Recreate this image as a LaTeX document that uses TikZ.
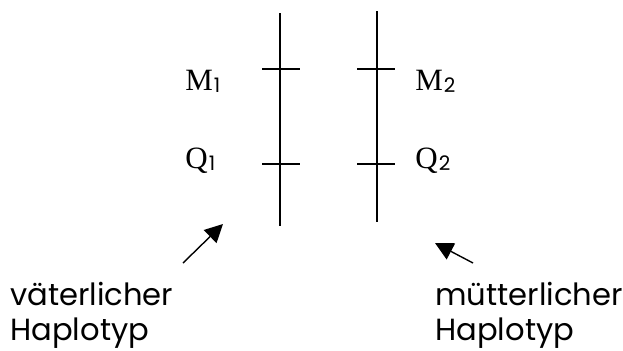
\documentclass[tikz,border=0pt]{standalone}
\usepackage{fontspec}
\setmainfont{Liberation Serif}
\newfontfamily\gothic{Poppins}
\usetikzlibrary{arrows.meta}
\newcommand{\locus}[2]{#1{\gothic\fontsize{10}{11}\selectfont\kern0.5pt\raisebox{-1pt}{#2}}}

\begin{document}
\begin{tikzpicture}[x=0.5pt, y=-0.5pt,
  chrom/.style={line width=0.7pt},
  tickmark/.style={line width=0.7pt},
  loc/.style={font=\fontsize{15.5}{17}\selectfont, inner sep=0pt, anchor=base west},
  hap/.style={font=\gothic\fontsize{15.3}{17.5}\selectfont, align=left,
              inner sep=0pt, anchor=north west},
  arr/.style={-{Triangle[length=9pt, width=9pt]}, line width=0.7pt}
]
\useasboundingbox (0,0) rectangle (623,350);

% the two haplotypes
\coordinate (ptop) at (280,13);
\coordinate (pbot) at (280,226);
\coordinate (mtop) at (377,11);
\coordinate (mbot) at (377,222);
\draw[chrom] (ptop) -- (pbot);
\draw[chrom] (mtop) -- (mbot);

% marker and QTL positions
\draw[tickmark] (262,69) -- (300,69);
\draw[tickmark] (262,164) -- (300,164);
\draw[tickmark] (357,69) -- (395,69);
\draw[tickmark] (357,164) -- (395,164);

\node[loc] (m1) at (185,90) {\locus{M}{1}};
\node[loc] (q1) at (185,168) {\locus{Q}{1}};
\node[loc] (m2) at (415,90) {\locus{M}{2}};
\node[loc] (q2) at (415,168) {\locus{Q}{2}};

\node[hap] (vater) at (10,282) {väterlicher\\Haplotyp};
\node[hap] (mutter) at (435,282) {mütterlicher\\Haplotyp};

\coordinate (vtail) at (183,263);
\coordinate (vtip) at (223,224);
\coordinate (mtail) at (473,263);
\coordinate (mtip) at (435,243);
\draw[arr] (vtail) -- (vtip);
\draw[arr] (mtail) -- (mtip);
\end{tikzpicture}
\end{document}
